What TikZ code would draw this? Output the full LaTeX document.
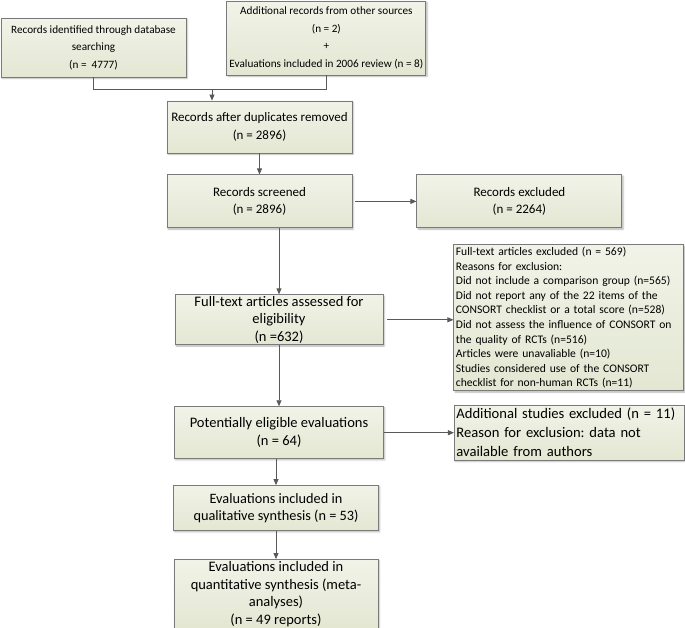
\documentclass[tikz,border=0pt]{standalone}
\usepackage{fontspec}
\setsansfont{Carlito}
\usepackage{tikz}
\usetikzlibrary{arrows.meta, positioning, shadows.blur}
\definecolor{boxtop}{HTML}{F1F3E8}
\definecolor{boxfill}{HTML}{E3E7D2}
\definecolor{boxedge}{HTML}{7A7A7A}
\definecolor{linegray}{HTML}{595959}
\newcommand{\boxfont}[1]{\sffamily\fontsize{#1}{17.5}\selectfont}
\frenchspacing

\begin{document}
\begin{tikzpicture}[
  x=1pt, y=1pt,
  flowbox/.style={rectangle, draw=boxedge, line width=0.9pt, top color=boxtop, bottom color=boxfill, inner sep=2pt, align=center, font=\boxfont{13}, blur shadow={shadow xshift=1.2pt, shadow yshift=-1.2pt, shadow blur steps=4, shadow opacity=30}},
  notebox/.style={flowbox, align=left, inner xsep=2pt, text width=226pt, minimum width=230pt},
  arrow/.style={-{Triangle[length=6pt,width=5pt]}, line width=0.8pt, color=linegray},
  link/.style={line width=0.8pt, color=linegray}
]
  \useasboundingbox (0,0) rectangle (685,-627);

  % Identification
  \node[flowbox, minimum width=185pt, minimum height=59pt, font=\boxfont{11.2}] (db) at (93.5,-47.5) {Records identified through database\\searching\\(n =\ \ 4777)};
  \node[flowbox, minimum width=199pt, minimum height=74pt, font=\boxfont{11.2}, right=40pt of db, yshift=9.5pt] (other) {Additional records from other sources\\(n = 2)\\+\\Evaluations included in 2006 review (n = 8)};
  \coordinate (merge) at (212,-89);

  % Screening
  \node[flowbox, minimum width=185pt, minimum height=52pt] (dup) at (259.5,-127) {Records after duplicates removed\\(n = 2896)};
  \node[flowbox, minimum width=185pt, minimum height=53pt, below=21pt of dup] (screened) {Records screened\\(n = 2896)};
  \node[flowbox, minimum width=205pt, minimum height=53pt, right=64pt of screened] (excl) {Records excluded\\(n = 2264)};

  % Eligibility
  \node[flowbox, minimum width=208pt, minimum height=50pt, inner ysep=0pt, font=\boxfont{14.5}, below=66pt of screened, xshift=19.5pt] (fulltext) {Full-text articles assessed for\\eligibility\\(n =632)};
  \node[notebox, minimum height=146pt, inner ysep=1pt, font=\sffamily\fontsize{11.6}{14.6}\selectfont, right=70pt of fulltext, yshift=2pt] (ftexcl) {Full-text articles excluded (n = 569)\\Reasons for exclusion:\\Did not include a comparison group (n=565)\\Did not report any of the 22 items of the\\CONSORT checklist or a total score (n=528)\\Did not assess the influence of CONSORT on\\the quality of RCTs (n=516)\\Articles were unavaliable (n=10)\\Studies considered use of the CONSORT\\checklist for non-human RCTs (n=11)};
  \node[flowbox, minimum width=209pt, minimum height=52pt, font=\boxfont{14.5}, below=61pt of fulltext] (elig) {Potentially eligible evaluations\\(n = 64)};
  \node[notebox, minimum height=55pt, inner ysep=1pt, font=\sffamily\fontsize{14.6}{19}\selectfont, right=70pt of elig] (addexcl) {Additional studies excluded (n = 11)\\Reason for exclusion: data not\\available from authors};

  % Included
  \node[flowbox, minimum width=205pt, minimum height=45pt, font=\boxfont{14.3}, below=26pt of elig, xshift=-3pt] (qual) {Evaluations included in\\qualitative synthesis (n = 53)};
  \node[flowbox, minimum width=204pt, minimum height=69pt, inner ysep=0pt, font=\boxfont{14.5}, below=28pt of qual] (quant) {Evaluations included in\\quantitative synthesis (meta-\\analyses)\\(n = 49 reports)};

  % Arrows
  \draw[link] (db.south) |- (merge);
  \draw[link] (other.south) |- (merge);
  \draw[arrow] (merge) -- (merge |- dup.north);
  \draw[arrow] (dup) -- (screened);
  \draw[arrow, shorten <=3pt] (screened) -- (excl);
  \draw[arrow] (fulltext.north |- screened.south) -- (fulltext.north);
  \draw[arrow, shorten <=4pt] (fulltext.east) -- (fulltext.east -| ftexcl.west);
  \draw[arrow] (fulltext) -- (elig);
  \draw[arrow] (elig) -- (addexcl);
  \draw[arrow] (qual.north |- elig.south) -- (qual.north);
  \draw[arrow] (qual) -- (quant);
\end{tikzpicture}
\end{document}
